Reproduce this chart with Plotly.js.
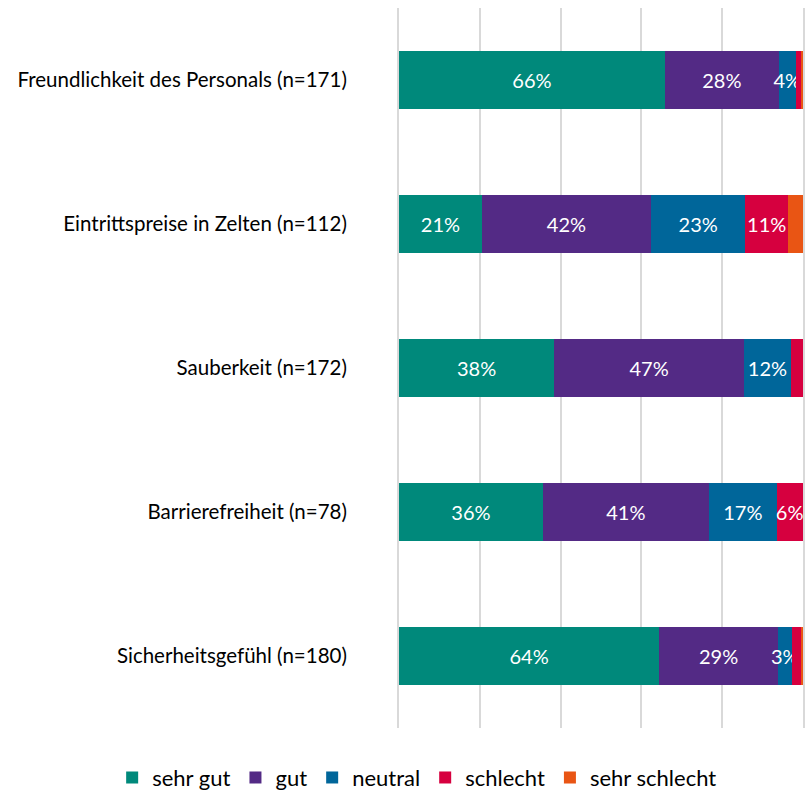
<!DOCTYPE html>
<html><head><meta charset="utf-8">
<script src="https://cdn.plot.ly/plotly-3.0.1.min.js"></script>
<style>html,body{margin:0;padding:0;background:#fff}#chart{width:811px;height:790px}</style>
</head><body><div id="chart"></div>
<script>
const categories = [
  "Freundlichkeit des Personals (n=171)",
  "Eintrittspreise in Zelten (n=112)",
  "Sauberkeit (n=172)",
  "Barrierefreiheit (n=78)",
  "Sicherheitsgefühl (n=180)"
];
const seriesNames = ["sehr gut", "gut", "neutral", "schlecht", "sehr schlecht"];
const sehrGut     = [65.8, 20.5, 38.4, 35.6, 64.4];
const gut         = [28.2, 41.9, 47.0, 41.1, 29.4];
const neutral     = [4.2, 23.3, 11.6, 16.8, 3.4];
const schlecht    = [1.2, 10.6, 3.0, 6.4, 2.2];
const sehrSchlecht= [0.6, 3.7, 0.0, 0.1, 0.6];

const seriesValues = [sehrGut, gut, neutral, schlecht, sehrSchlecht];
const colors = ["#00897B", "#532A85", "#00669A", "#D6003F", "#E95514"];
const showLabels = [true, true, true, true, false];

const traces = seriesValues.map((vals, i) => ({
  type: "bar",
  orientation: "h",
  name: seriesNames[i],
  y: categories,
  x: vals,
  marker: {color: colors[i], line: {width: 0}},
  text: vals.map(v => (showLabels[i] && v >= 3.3) ? Math.round(v) + "%" : ""),
  textposition: "inside",
  insidetextanchor: "middle",
  textangle: 0,
  constraintext: "none",
  textfont: {family: "Lato, sans-serif", size: 20, color: "#ffffff"},
  hoverinfo: "none"
}));

const layout = {
  width: 811, height: 790,
  margin: {l: 399, r: 8, t: 8, b: 62, autoexpand: false},
  barmode: "stack",
  barnorm: "percent",
  bargap: 0.6,
  paper_bgcolor: "#ffffff",
  plot_bgcolor: "#ffffff",
  font: {family: "Lato, sans-serif", size: 20, color: "#000000"},
  xaxis: {
    range: [0, 100], dtick: 20, tick0: 0,
    showgrid: true, gridcolor: "#d9d9d9", gridwidth: 2,
    zeroline: false, showticklabels: false, showline: false, ticks: ""
  },
  yaxis: {
    autorange: "reversed",
    showgrid: false, zeroline: false,
    showline: true, mirror: true, linecolor: "#d9d9d9", linewidth: 2,
    layer: "below traces",
    ticks: "outside", ticklen: 46, tickcolor: "rgba(0,0,0,0)",
    tickfont: {family: "Lato, sans-serif", size: 20.5, color: "#000000"}
  },
  showlegend: true,
  legend: {
    orientation: "h",
    x: -0.71, xanchor: "left", y: -0.069, yanchor: "middle",
    font: {family: "Lato, sans-serif", size: 22, color: "#000000"},
    traceorder: "normal", itemclick: false
  }
};

Plotly.newPlot("chart", traces, layout, {displayModeBar: false, staticPlot: true});
</script>
</body></html>
